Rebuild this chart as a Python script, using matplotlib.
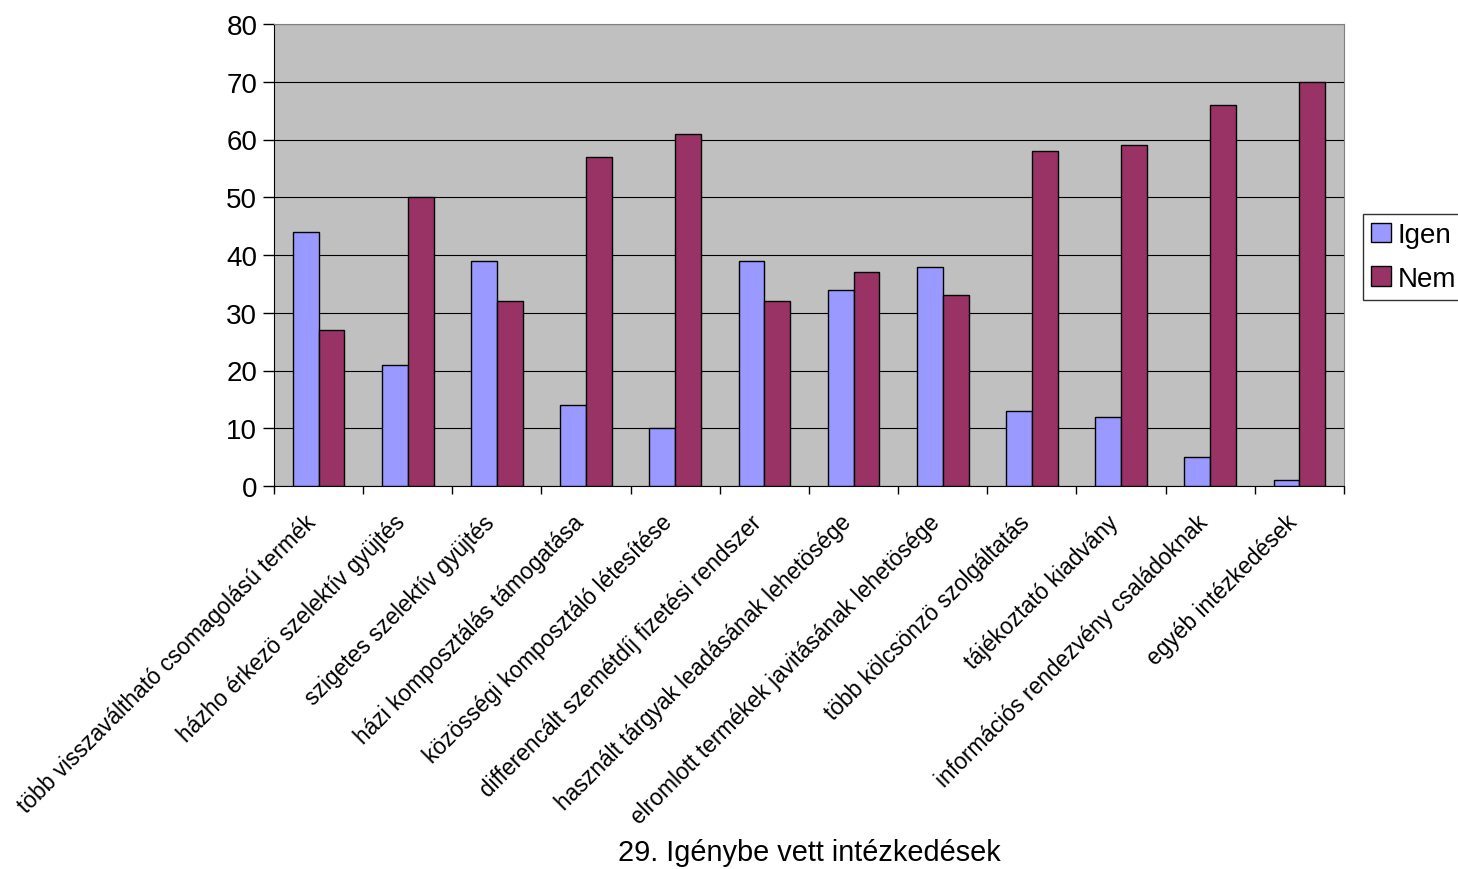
import matplotlib
matplotlib.use("Agg")
import matplotlib.pyplot as plt
import numpy as np

categories = [
    "több visszaváltható csomagolású termék",
    "házho érkező szelektív gyüjtés",
    "szigetes szelektív gyüjtés",
    "házi komposztálás támogatása",
    "közösségi komposztáló létesítése",
    "differencált szemétdíj fizetési rendszer",
    "használt tárgyak leadásának lehetősége",
    "elromlott termékek javitásának lehetősége",
    "több kölcsönző szolgáltatás",
    "tájékoztató kiadvány",
    "információs rendezvény családoknak",
    "egyéb intézkedések",
]
categories = [c.replace("ő", "ö") for c in categories]
igen = [44, 21, 39, 14, 10, 39, 34, 38, 13, 12, 5, 1]
nem = [27, 50, 32, 57, 61, 32, 37, 33, 58, 59, 66, 70]
series_names = ["Igen", "Nem"]
yticks = [0, 10, 20, 30, 40, 50, 60, 70, 80]
title = "29. Igénybe vett intézkedések"

plt.rcParams['font.family'] = ['Liberation Sans', 'DejaVu Sans']

W, H = 1458, 870
fig = plt.figure(figsize=(W / 100, H / 100), dpi=100)
ax = fig.add_axes([274 / W, 1 - 487 / H, (1344 - 274) / W, (487 - 25) / H])
ax.set_facecolor("#C0C0C0")

x = np.arange(len(categories))
bw = 0.29
ax.bar(x - bw / 2, igen, bw, color="#9999FF", edgecolor="black", linewidth=1, label=series_names[0], zorder=3)
ax.bar(x + bw / 2, nem, bw, color="#993366", edgecolor="black", linewidth=1, label=series_names[1], zorder=3)

ax.set_xlim(-0.5, len(categories) - 0.5)
ax.set_ylim(0, 80)
ax.set_yticks(yticks)
ax.set_yticklabels([str(v) for v in yticks], fontsize=20)
ax.yaxis.grid(True, color="black", linewidth=0.8, zorder=0)
ax.set_axisbelow(True)
ax.tick_params(axis='y', length=8, width=1, pad=4)

ax.set_xticks(np.arange(len(categories) + 1) - 0.5)
ax.set_xticklabels([])
ax.tick_params(axis='x', length=6, width=1)
for i, c in enumerate(categories):
    ax.text(i - 0.16, -4.2, c, rotation=45, ha='right', va='top', rotation_mode='anchor',
            fontsize=16.4, transform=ax.transData)

for s in ['top', 'right']:
    ax.spines[s].set_color("#808080")
ax.spines['left'].set_color("black")
ax.spines['bottom'].set_color("black")

leg = fig.legend(loc='upper left', bbox_to_anchor=(1363 / W, 1 - 215 / H), fontsize=20,
                 frameon=True, fancybox=False, edgecolor="black", handlelength=0.7,
                 handleheight=0.7, handletextpad=0.25, borderpad=0.3, labelspacing=0.62,
                 borderaxespad=0)
leg.get_frame().set_linewidth(1)

fig.text(809 / W, 1 - 853 / H, title, ha='center', va='center', fontsize=20.8)

fig.savefig("out.png", dpi=100)
